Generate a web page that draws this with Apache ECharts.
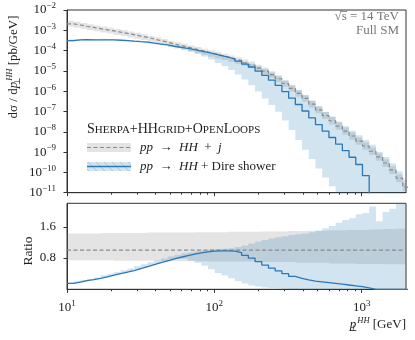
<!DOCTYPE html>
<html><head><meta charset="utf-8">
<script src="https://cdn.jsdelivr.net/npm/echarts@6/dist/echarts.min.js"></script>
<style>html,body{margin:0;padding:0;background:#fff}#c{width:415px;height:340px}</style>
</head><body><div id="c"></div>
<script>
// ---- data ----
const binEdges = [10, 11.11, 12.34, 13.70, 15.22, 16.90, 18.77, 20.85, 23.16, 25.72, 28.57, 31.73, 35.24, 39.14, 43.47, 48.28, 53.62, 59.56, 66.15, 73.47, 81.60, 90.63, 100.6, 111.8, 124.2, 137.9, 153.2, 170.1, 189.0, 209.9, 233.1, 258.9, 287.5, 319.4, 354.7, 393.9, 437.5, 485.9, 539.7, 599.5, 665.8, 739.5, 821.3, 912.2, 1013, 1125, 1250, 1388, 1541, 1712, 1901, 2112];
// pp -> HH + j  (dsigma/dpT in pb/GeV)
const hjValues = [2.09e-3, 1.82e-3, 1.58e-3, 1.38e-3, 1.20e-3, 1.06e-3, 9.3e-4, 8.1e-4, 7.1e-4, 6.1e-4,
  5.2e-4, 4.5e-4, 3.7e-4, 3.1e-4, 2.6e-4, 2.1e-4, 1.78e-4, 1.48e-4, 1.23e-4, 1.02e-4,
  8.5e-5, 7.1e-5, 5.8e-5, 4.8e-5, 3.9e-5, 3.2e-5, 2.5e-5, 1.95e-5, 1.38e-5, 9.8e-6,
  6.5e-6, 4.1e-6, 2.4e-6, 1.38e-6, 7.9e-7, 4.4e-7, 2.3e-7, 1.2e-7, 6.3e-8, 3.5e-8,
  1.9e-8, 1.07e-8, 6.2e-9, 3.5e-9, 2.0e-9, 1.1e-9, 5.8e-10, 2.9e-10, 1.32e-10, 5.2e-11, 1.9e-11];
// H+j uncertainty band, relative to its central value
const hjBandHigh = [1.43,1.43,1.43,1.43,1.43,1.44,1.44,1.44,1.44,1.44,1.44,1.44,1.45,1.45,1.45,1.45,1.45,1.45,1.45,1.46,1.46,
  1.46,1.46,1.46,1.47,1.47,1.47,1.47,1.47,1.48,1.48,1.48,1.48,1.49,1.49,1.49,
  1.50,1.50,1.50,1.51,1.51,1.51,1.52,1.52,1.52,1.53,1.53,1.54,1.54,1.55,1.55];
const hjBandLow = [0.74,0.74,0.74,0.74,0.74,0.74,0.74,0.73,0.73,0.73,0.73,0.73,0.73,0.73,0.72,0.72,0.72,0.72,0.72,0.72,0.72,
  0.71,0.71,0.71,0.71,0.71,0.71,0.71,0.70,0.70,0.70,0.70,0.70,0.70,
  0.68,0.68,0.68,0.68,0.68,0.66,0.66,0.66,0.66,0.65,0.65,0.65,0.65,0.64,0.64,0.64,0.64];
// pp -> HH + Dire shower, as ratio to H+j
const direRatio = [0.15, 0.185, 0.22, 0.245, 0.28, 0.32, 0.36, 0.40, 0.44, 0.48,
  0.53, 0.58, 0.63, 0.68, 0.73, 0.78, 0.82, 0.86, 0.90, 0.93,
  0.955, 0.975, 0.985, 0.985, 0.975, 0.94, 0.87, 0.80, 0.71, 0.62,
  0.54, 0.47, 0.40, 0.33, 0.28, 0.24, 0.21, 0.19, 0.17, 0.15,
  0.13, 0.11, 0.09, 0.07, 0.035, 0, 0, 0, 0, 0, 0];
const direBandHigh = [0.17, 0.205, 0.24, 0.27, 0.30, 0.36, 0.40, 0.44, 0.49, 0.53,
  0.59, 0.64, 0.69, 0.74, 0.79, 0.84, 0.88, 0.92, 0.95, 0.98,
  1.0, 1.02, 1.03, 1.04, 1.05, 1.08, 1.12, 1.17, 1.22, 1.26,
  1.30, 1.33, 1.36, 1.39, 1.41, 1.43, 1.46, 1.50, 1.56, 1.62,
  1.70, 1.77, 1.82, 1.92, 1.95, 2.12, 1.74, 1.98, 2.06, 2.18, 2.3];
const direBandLow = [0.135, 0.17, 0.205, 0.23, 0.265, 0.305, 0.345, 0.385, 0.425, 0.465,
  0.51, 0.56, 0.61, 0.66, 0.71, 0.76, 0.79, 0.78, 0.73, 0.68,
  0.60, 0.51, 0.42, 0.35, 0.28, 0.21, 0.15, 0.10, 0.07, 0.045,
  0.032, 0.024, 0.015, 0.009, 0.005, 0.003, 0.002, 0.0013, 0.0009, 0.0006,
  0.0004, 0, 0, 0, 0, 0, 0, 0, 0, 0, 0];
const xMajorTicks = [10, 100, 1000];
const xMinorTicks = [20, 30, 40, 50, 60, 70, 80, 90, 200, 300, 400, 500, 600, 700, 800, 900];
const yTopTicks = [1e-11, 1e-10, 1e-9, 1e-8, 1e-7, 1e-6, 1e-5, 1e-4, 1e-3, 1e-2];
const ratioTicks = [0.8, 1.6];

// ---- derived series ----
const X_MIN = 10, X_MAX = 2000, Y_MIN = 1e-11, Y_MAX = 1e-2, R_MIN = 0, R_MAX = 2.2;
const nb = hjValues.length;
const hjBandTopLow = hjValues.map((v, k) => v * hjBandLow[k]);
const hjBandTopHigh = hjValues.map((v, k) => v * hjBandHigh[k]);
const direTop = hjValues.map((v, k) => v * direRatio[k]);
const direBandTopLow = hjValues.map((v, k) => v * direBandLow[k]);
const direBandTopHigh = hjValues.map((v, k) => v * direBandHigh[k]);

function stepData(vals, floor) {
  const d = vals.map((v, k) => [binEdges[k], v > 0 ? v : floor]);
  d.push([binEdges[nb], vals[nb - 1] > 0 ? vals[nb - 1] : floor]);
  return d;
}

const FONT = '"Liberation Serif", "DejaVu Serif", serif';
const BLUE = '#2a78b6';
const BLUE_BAND = 'rgba(31,119,180,0.2)';
const GRAY_BAND = 'rgba(128,128,128,0.21)';
const DASH = '#8a8a8a';
const AX = '#333';

function bandSeries(xi, yi, lowArr, highArr, lo, hi, fill, z) {
  const clampY = v => Math.min(hi, Math.max(lo, v));
  return {
    type: 'custom', xAxisIndex: xi, yAxisIndex: yi, z: z, silent: true,
    data: [[X_MIN, lo > 0 ? lo : 0.5]],
    renderItem: function (params, api) {
      const up = [], dn = [];
      for (let k = 0; k < lowArr.length; k++) {
        const x0 = Math.min(binEdges[k], X_MAX), x1 = Math.min(binEdges[k + 1], X_MAX);
        if (x0 >= X_MAX) break;
        const h = clampY(highArr[k]), l = clampY(lowArr[k]);
        up.push(api.coord([x0, h]), api.coord([x1, h]));
        dn.push(api.coord([x0, l]), api.coord([x1, l]));
      }
      return { type: 'polygon', shape: { points: up.concat(dn.reverse()) }, style: { fill: fill } };
    }
  };
}

function supLabel(v) {
  const e = Math.round(Math.log10(v));
  return '{b|10}{e|' + (e < 0 ? '\u2212' + (-e) : e) + '}';
}
const supRich = {
  b: { fontFamily: FONT, fontSize: 13, color: '#222' },
  e: { fontFamily: FONT, fontSize: 9, color: '#222', padding: [0, 0, 8, 0] }
};

const xBase = (grid, labels) => ({
  gridIndex: grid, type: 'log', logBase: 10, min: X_MIN, max: X_MAX,
  axisLine: { show: true, onZero: false, lineStyle: { color: AX, width: 1 } },
  axisTick: { show: true, inside: false, length: 3.5, customValues: xMajorTicks, lineStyle: { color: AX } },
  axisLabel: labels ? { show: true, customValues: xMajorTicks, margin: 10, formatter: supLabel, rich: supRich } : { show: false },
  splitLine: { show: false }
});
const xMinor = (grid) => ({
  gridIndex: grid, type: 'log', logBase: 10, min: X_MIN, max: X_MAX, position: 'bottom', offset: 0,
  axisLine: { show: false },
  axisTick: { show: true, inside: false, length: 2, customValues: xMinorTicks, lineStyle: { color: AX } },
  axisLabel: { show: false }, splitLine: { show: false }
});

// measure text for the sqrt overline
const mctx = document.createElement('canvas').getContext('2d');
const ANN_SIZE = 13;
mctx.font = ANN_SIZE + 'px "Liberation Serif"';
const annRight = 399;
const wTail = mctx.measureText(' = 14 TeV').width;
const wS = mctx.measureText('s').width;
const wSq = mctx.measureText('\u221a').width;
const sRight = annRight - wTail, sLeft = sRight - wS, sqLeft = sLeft - wSq;

const chart = echarts.init(document.getElementById('c'), null, { renderer: 'canvas' });

// legend hatch lines
const hatch = [];
for (let s = 80; s < 135; s += 8) {
  let x1 = s, y1 = 162, x2 = s + 9, y2 = 171;
  if (x1 < 87) { y1 += 87 - x1; x1 = 87; }
  if (x2 > 131) { y2 -= x2 - 131; x2 = 131; }
  if (x2 > x1) hatch.push({ type: 'line', shape: { x1, y1, x2, y2 }, style: { stroke: 'rgba(80,110,140,0.35)', lineWidth: 0.8 }, z: 100 });
}
const SP = '\u2002';

const option = {
  animation: false,
  backgroundColor: '#fff',
  grid: [
    { left: 67, right: 9, top: 10, height: 182.7, show: true, borderColor: AX, borderWidth: 1 },
    { left: 67, right: 9, top: 203.3, height: 86, show: true, borderColor: AX, borderWidth: 1 }
  ],
  xAxis: [xBase(0, false), xBase(1, true), xMinor(0), xMinor(1)],
  yAxis: [
    { gridIndex: 0, type: 'log', logBase: 10, min: Y_MIN, max: Y_MAX,
      axisLine: { show: true, lineStyle: { color: AX } },
      axisTick: { show: true, length: 3.5, customValues: yTopTicks, lineStyle: { color: AX } },
      axisLabel: { customValues: yTopTicks, margin: 11, formatter: supLabel, rich: supRich },
      splitLine: { show: false } },
    { gridIndex: 1, type: 'value', min: R_MIN, max: R_MAX,
      axisLine: { show: true, lineStyle: { color: AX } },
      axisTick: { show: true, length: 3.5, customValues: ratioTicks, lineStyle: { color: AX } },
      axisLabel: { customValues: ratioTicks, margin: 11, formatter: v => v.toFixed(1), fontFamily: FONT, fontSize: 13, color: '#222' },
      splitLine: { show: false } }
  ],
  series: [
    bandSeries(0, 0, hjBandTopLow, hjBandTopHigh, Y_MIN, Y_MAX, GRAY_BAND, 2),
    bandSeries(0, 0, direBandTopLow, direBandTopHigh, Y_MIN, Y_MAX, BLUE_BAND, 2),
    { type: 'line', xAxisIndex: 0, yAxisIndex: 0, step: 'end', showSymbol: false, z: 4, silent: true,
      data: stepData(hjValues, 1e-14), lineStyle: { color: DASH, width: 1.2, type: [4, 2.5] } },
    { type: 'line', xAxisIndex: 0, yAxisIndex: 0, step: 'end', showSymbol: false, z: 5, silent: true,
      data: stepData(direTop, 1e-14), lineStyle: { color: BLUE, width: 1.3 } },
    bandSeries(1, 1, hjBandLow, hjBandHigh, R_MIN, R_MAX, GRAY_BAND, 2),
    bandSeries(1, 1, direBandLow, direBandHigh, R_MIN, R_MAX, BLUE_BAND, 2),
    { type: 'line', xAxisIndex: 1, yAxisIndex: 1, showSymbol: false, z: 4, silent: true,
      data: [[X_MIN, 1], [X_MAX, 1]], lineStyle: { color: DASH, width: 1.2, type: [4, 2.5] } },
    { type: 'line', xAxisIndex: 1, yAxisIndex: 1, step: 'end', showSymbol: false, z: 5, silent: true,
      data: stepData(direRatio, 0), lineStyle: { color: BLUE, width: 1.3 } }
  ],
  graphic: [
    // y-axis titles
    { type: 'text', x: 14, y: 67, rotation: Math.PI / 2, z: 100,
      style: { text: 'd\u03c3 / d{i|p}{sub|\u22a5}{sup|HH} [pb/GeV]', fontFamily: FONT, fontSize: 13, fill: '#222', align: 'center', verticalAlign: 'middle',
        rich: { i: { fontFamily: FONT, fontStyle: 'italic', fontSize: 13 },
                sub: { fontFamily: FONT, fontSize: 8.5, padding: [7, 0, 0, 0], width: 1 },
                sup: { fontFamily: FONT, fontStyle: 'italic', fontSize: 8.5, padding: [0, 0, 8, 0] } } } },
    { type: 'text', x: 28, y: 251, rotation: Math.PI / 2, z: 100,
      style: { text: 'Ratio', fontFamily: FONT, fontSize: 13.5, fill: '#222', align: 'center', verticalAlign: 'middle' } },
    // x-axis title
    { type: 'text', x: 406, y: 325, z: 100,
      style: { text: '{i|p}{sub|\u22a5}{sup|HH} [GeV]', fontFamily: FONT, fontSize: 13, fill: '#222', align: 'right', verticalAlign: 'middle',
        rich: { i: { fontFamily: FONT, fontStyle: 'italic', fontSize: 13 },
                sub: { fontFamily: FONT, fontSize: 8.5, padding: [7, 0, 0, 0], width: 1 },
                sup: { fontFamily: FONT, fontStyle: 'italic', fontSize: 8.5, padding: [0, 0, 8, 0] } } } },
    // annotations
    { type: 'text', x: annRight, y: 17, z: 100,
      style: { text: '\u221as = 14 TeV', fontFamily: FONT, fontSize: ANN_SIZE, fill: '#777', align: 'right', verticalAlign: 'middle' } },
    { type: 'line', shape: { x1: sqLeft + wSq * 0.8, y1: 11.5, x2: sRight + 0.5, y2: 11.5 }, style: { stroke: '#777', lineWidth: 0.8 }, z: 100 },
    { type: 'text', x: annRight, y: 30.5, z: 100,
      style: { text: 'Full SM', fontFamily: FONT, fontSize: ANN_SIZE, fill: '#777', align: 'right', verticalAlign: 'middle' } },
    // legend
    { type: 'text', x: 87, y: 129, z: 100,
      style: { text: '{L|S}{s|HERPA}{L|+HH}{s|GRID}{L|+O}{s|PEN}{L|L}{s|OOPS}', fill: '#222', align: 'left', verticalAlign: 'middle',
        rich: { L: { fontFamily: FONT, fontSize: 14, lineHeight: 14, verticalAlign: 'bottom', fill: '#222' },
                s: { fontFamily: FONT, fontSize: 11, lineHeight: 11, verticalAlign: 'bottom', fill: '#222' } } } },
    { type: 'rect', shape: { x: 87, y: 143, width: 44, height: 9 }, style: { fill: GRAY_BAND }, z: 100 },
    { type: 'line', shape: { x1: 87, y1: 147.5, x2: 131, y2: 147.5 }, style: { stroke: DASH, lineWidth: 1.2, lineDash: [4, 2.5] }, z: 101 },
    { type: 'rect', shape: { x: 87, y: 162, width: 44, height: 9 }, style: { fill: BLUE_BAND }, z: 100 },
    ...hatch,
    { type: 'line', shape: { x1: 87, y1: 166.5, x2: 131, y2: 166.5 }, style: { stroke: BLUE, lineWidth: 1.3 }, z: 101 },
    { type: 'text', x: 140, y: 148, z: 100,
      style: { text: '{i|pp}' + SP + '\u2192' + SP + '{i|HH}' + SP + '+' + SP + '{i|j}', fontFamily: FONT, fontSize: 13, fill: '#222', align: 'left', verticalAlign: 'middle',
        rich: { i: { fontFamily: FONT, fontStyle: 'italic', fontSize: 13 } } } },
    { type: 'text', x: 140, y: 166.5, z: 100,
      style: { text: '{i|pp}' + SP + '\u2192' + SP + '{i|HH} + Dire shower', fontFamily: FONT, fontSize: 13, fill: '#222', align: 'left', verticalAlign: 'middle',
        rich: { i: { fontFamily: FONT, fontStyle: 'italic', fontSize: 13 } } } }
  ]
};
chart.setOption(option);
</script></body></html>
